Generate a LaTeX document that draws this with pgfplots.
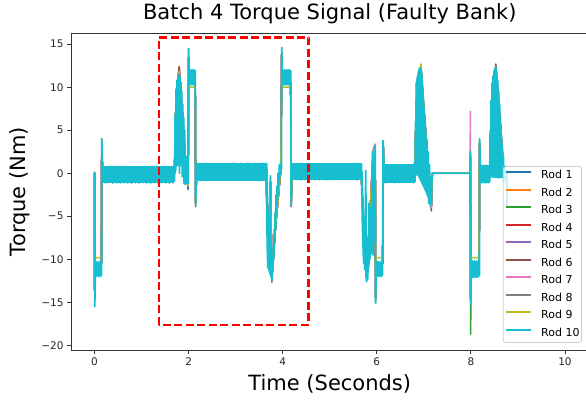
\documentclass[border=0pt]{standalone}
\usepackage{fontspec}
\setmainfont{DejaVu Sans}
\usepackage{pgfplots}
\usepackage{pgfplotstable}
\pgfplotsset{compat=1.18}
\definecolor{c1}{HTML}{1F77B4}
\definecolor{c2}{HTML}{FF7F0E}
\definecolor{c3}{HTML}{2CA02C}
\definecolor{c4}{HTML}{D62728}
\definecolor{c5}{HTML}{9467BD}
\definecolor{c6}{HTML}{8C564B}
\definecolor{c7}{HTML}{E377C2}
\definecolor{c8}{HTML}{7F7F7F}
\definecolor{c9}{HTML}{BCBD22}
\definecolor{c10}{HTML}{17BECF}

% Rods 1-9 (mostly hidden beneath Rod 10)
\pgfplotstableread{
x r1 r2 r3 r4 r5 r6 r7 r8 r9
0.000 0 0 0 0 0 0 0 0.2 0
0.005 -14 -14 -14 -14 -14 -14 -14 -14 -14
0.020 -10.5 -10.5 -10.5 -10.5 -10.5 -10.5 -10.5 -10.5 -9.8
0.145 -10.5 -10.5 -10.5 -10.5 -10.5 -10.5 -10.5 -10.5 -9.8
0.155 3.5 3.5 3.5 3.5 3.5 3.5 3.5 3.5 4.0
0.170 0 0 0 0 0 0 0 0 0
1.700 0 0 0 0 0 0 0 0 0
1.720 6 6 6 6 6 6 6 6 7
1.750 10 10 10 10 10 10 10 10 10
1.800 11.8 11.8 11.8 12.4 12.0 12.2 11.8 11.8 11.8
1.840 9 9 9 9 9 9 9 9 9
1.880 6 6 6 6 6 6 6 6 6
1.950 0 0 0 0 0 0 0 0 0
1.990 -1.9 -1.2 -1.2 -1.2 -1.2 -1.2 -1.2 -1.2 -1.5
2.000 13.5 13.5 13.5 13.5 13.5 13.5 13.5 13.5 13.5
2.010 10.5 10.5 10.5 10.5 10.5 10.5 10.5 10.5 10.0
2.140 10.5 10.5 10.5 10.5 10.5 10.5 10.5 10.5 10.0
2.150 -3.5 -3.5 -3.5 -3.5 -3.5 -3.9 -3.5 -3.5 -3.5
2.170 0 0 0 0 0 0 0 0 0
3.640 0 0 0 0 0 0 0 0 0
3.700 -7.5 -7.5 -7.5 -7.5 -7.5 -7.5 -7.5 -7.5 -8.0
3.740 -1.0 -1.0 -1.0 -1.0 -1.0 -1.0 -1.0 -1.0 -0.5
3.770 -12.0 -12.0 -12.0 -12.0 -12.0 -12.0 -12.0 -12.7 -12.0
3.850 -6 -6 -6 -6 -6 -6 -6 -6 -6
3.960 0.5 0.5 0.5 0.5 0.5 0.5 0.5 0.5 0.5
3.980 14 14 14 14 14 14 14 14 14
3.990 10.5 10.5 10.5 10.5 10.5 10.5 10.5 10.5 10.0
4.170 10.5 10.5 10.5 10.5 10.5 10.5 10.5 10.5 10.0
4.180 -3.5 -3.5 -3.5 -3.5 -3.5 -3.9 -3.5 -3.5 -3.5
4.200 0 0 0 0 0 0 0 0 0
5.670 0 0 0 0 0 0 0 0 0
5.750 -10.5 -10.5 -10.5 -10.5 -10.5 -10.5 -10.5 -10.5 -10.5
5.785 -12.2 -12.2 -12.2 -12.2 -12.2 -12.2 -12.2 -12.2 -12.2
5.920 2.0 2.0 2.0 2.0 2.0 2.0 2.8 2.0 2.0
5.965 2.8 2.8 2.8 2.8 2.8 2.8 3.4 2.8 2.8
5.975 -14.5 -14.5 -14.5 -14.5 -14.5 -14.5 -14.5 -14.5 -14.5
5.990 -10.5 -10.5 -10.5 -10.5 -10.5 -10.5 -10.5 -10.5 -9.8
6.125 -10.5 -10.5 -10.5 -10.5 -10.5 -10.5 -10.5 -10.5 -9.8
6.135 3.5 3.5 3.5 3.5 3.5 3.5 3.5 3.5 3.5
6.150 0 0 0 0 0 0 0 0 0
6.800 0 0 0 0 0 0 0 0 0
6.860 10.5 10.5 10.5 10.5 10.5 10.5 10.5 10.5 10.5
6.940 12.0 12.0 12.0 12.0 12.0 12.0 12.0 12.0 12.7
7.000 7.5 7.5 7.5 7.5 7.5 7.5 7.5 7.5 7.5
7.160 -3.8 -3.8 -3.8 -3.8 -3.8 -4.4 -4.0 -3.8 -3.8
7.180 0 0 0 0 0 0 0 0 0
7.980 0 0 0 0 0 0 0 0 0
7.990 2.0 2.0 2.0 2.0 2.0 2.0 7.2 2.0 2.0
7.995 -14.5 -14.5 -18.7 -14.5 -14.5 -14.5 -14.5 -14.5 -14.5
8.005 -10.5 -10.5 -10.5 -10.5 -10.5 -10.5 -10.5 -10.5 -9.8
8.175 -10.5 -10.5 -10.5 -10.5 -10.5 -10.5 -10.5 -10.5 -9.8
8.185 3.5 3.5 3.5 3.5 3.5 3.5 3.5 3.5 3.5
8.200 0 0 0 0 0 0 0 0 0
8.400 0 0 0 0 0 0 0 0 0
8.530 12.0 12.0 12.0 12.5 12.0 12.7 12.0 12.0 12.0
8.620 6 6 6 6 6 6 6 6 6
8.700 0 0 0 0 0 0 0 0 0
8.760 0 0 0 0 0 0 0 0 0
8.765 -3.6 -3.6 -3.6 -3.6 -3.6 -3.6 -3.6 -3.6 -3.6
}\rodsA

% Rod 10 (drawn on top)
\pgfplotstableread{
x y
0.000 0.1
0.005 -15.5
0.020 -10.3
0.032 -12.0
0.044 -10.3
0.056 -11.9
0.068 -10.4
0.080 -12.0
0.092 -10.3
0.104 -11.9
0.116 -10.3
0.128 -12.0
0.140 -10.4
0.150 -11.8
0.155 4.0
0.170 -1.0
0.190 0.78
0.23 -1.12
0.27 0.76
0.31 -1.10
0.35 0.80
0.39 -1.14
0.43 0.77
0.47 -1.11
0.51 0.79
0.55 -1.13
0.59 0.76
0.63 -1.10
0.67 0.80
0.71 -1.12
0.75 0.78
0.79 -1.14
0.83 0.76
0.87 -1.11
0.91 0.79
0.95 -1.13
0.99 0.77
1.03 -1.10
1.07 0.80
1.11 -1.12
1.15 0.76
1.19 -1.14
1.23 0.78
1.27 -1.11
1.31 0.79
1.35 -1.13
1.39 0.77
1.43 -1.10
1.47 0.80
1.51 -1.12
1.55 0.76
1.59 -1.14
1.63 0.78
1.67 -1.12
1.690 0.78
1.700 -0.9
1.715 7.0
1.725 0.3
1.735 9.8
1.745 4.0
1.755 10.8
1.765 6.5
1.775 11.2
1.785 9.0
1.795 11.5
1.805 0.0
1.815 11.2
1.825 6.0
1.835 10.6
1.845 3.0
1.855 9.5
1.865 -0.4
1.875 8.0
1.885 1.0
1.895 6.5
1.905 -1.2
1.915 5.0
1.930 -1.3
1.945 2.0
1.960 -1.2
1.975 0.5
1.990 -1.2
2.000 14.5
2.010 10.3
2.022 12.0
2.034 10.3
2.046 12.0
2.058 10.3
2.070 12.0
2.082 10.3
2.094 12.0
2.106 10.3
2.118 12.0
2.130 10.3
2.142 11.9
2.150 -3.7
2.165 1.15
2.18 -0.80
2.22 1.14
2.26 -0.78
2.30 1.16
2.34 -0.82
2.38 1.13
2.42 -0.79
2.46 1.15
2.50 -0.81
2.54 1.14
2.58 -0.78
2.62 1.16
2.66 -0.80
2.70 1.13
2.74 -0.82
2.78 1.15
2.82 -0.79
2.86 1.14
2.90 -0.81
2.94 1.16
2.98 -0.80
3.02 1.13
3.06 -0.78
3.10 1.15
3.14 -0.82
3.18 1.14
3.22 -0.79
3.26 1.16
3.30 -0.81
3.34 1.13
3.38 -0.80
3.42 1.15
3.46 -0.78
3.50 1.14
3.54 -0.82
3.58 1.16
3.62 -0.80
3.645 1.15
3.655 -2.0
3.665 -6.0
3.675 -9.0
3.685 -11.0
3.692 -5.0
3.700 -10.5
3.710 -7.5
3.720 -11.2
3.730 -9.0
3.740 -0.3
3.750 -10.0
3.760 -11.8
3.770 -12.4
3.780 -10.5
3.790 -11.5
3.800 -8.5
3.810 -10.0
3.820 -6.5
3.830 -8.0
3.840 -4.5
3.850 -6.5
3.860 -2.5
3.870 -4.5
3.880 -1.5
3.890 -3.0
3.900 0.0
3.915 -1.5
3.930 1.0
3.945 -0.5
3.960 1.2
3.972 0.5
3.980 14.6
3.990 10.3
4.002 12.0
4.014 10.3
4.026 12.0
4.038 10.3
4.050 12.0
4.062 10.3
4.074 12.0
4.086 10.3
4.098 12.0
4.110 10.3
4.122 12.0
4.134 10.3
4.146 12.0
4.158 10.3
4.170 11.9
4.180 -3.8
4.195 1.12
4.22 -0.75
4.26 1.11
4.30 -0.73
4.34 1.13
4.38 -0.77
4.42 1.10
4.46 -0.74
4.50 1.12
4.54 -0.76
4.58 1.11
4.62 -0.73
4.66 1.13
4.70 -0.75
4.74 1.10
4.78 -0.77
4.82 1.12
4.86 -0.74
4.90 1.11
4.94 -0.76
4.98 1.13
5.02 -0.75
5.06 1.10
5.10 -0.73
5.14 1.12
5.18 -0.77
5.22 1.11
5.26 -0.74
5.30 1.13
5.34 -0.76
5.38 1.10
5.42 -0.75
5.46 1.12
5.50 -0.73
5.54 1.11
5.58 -0.77
5.62 1.13
5.66 -0.75
5.675 1.10
5.685 -3.0
5.695 -6.0
5.705 -8.0
5.715 -9.5
5.725 -10.5
5.735 -8.0
5.745 -11.2
5.755 -9.0
5.765 0.3
5.775 -11.5
5.785 -12.6
5.795 -10.0
5.805 -12.3
5.815 -8.0
5.825 -11.0
5.835 -3.5
5.845 -10.0
5.855 -6.0
5.865 -9.0
5.875 -4.0
5.885 -7.0
5.900 -1.0
5.910 2.5
5.920 -9.5
5.930 2.0
5.940 -8.0
5.955 -0.5
5.965 3.2
5.975 -15.1
5.990 -10.3
6.002 -12.0
6.014 -10.3
6.026 -11.9
6.038 -10.3
6.050 -12.0
6.062 -10.4
6.074 -11.9
6.086 -10.3
6.098 -12.0
6.110 -10.3
6.122 -11.8
6.135 3.8
6.150 0.9
6.165 -1.1
6.180 1.0
6.22 -1.08
6.26 0.98
6.30 -1.06
6.34 1.00
6.38 -1.10
6.42 0.97
6.46 -1.07
6.50 0.99
6.54 -1.09
6.58 0.98
6.62 -1.06
6.66 1.00
6.70 -1.08
6.74 0.97
6.78 -1.10
6.800 1.0
6.810 -1.0
6.825 6.0
6.835 1.0
6.845 10.5
6.855 -0.2
6.865 11.2
6.875 5.0
6.885 11.8
6.895 8.0
6.905 12.2
6.915 2.7
6.925 12.0
6.935 3.0
6.945 11.5
6.955 6.0
6.965 10.5
6.975 0.5
6.985 9.0
6.995 2.0
7.005 7.5
7.015 -0.5
7.030 6.0
7.045 -1.5
7.060 4.0
7.075 -2.5
7.090 2.5
7.105 -3.5
7.120 1.0
7.135 -3.8
7.150 -0.5
7.160 -3.5
7.170 -1.0
7.180 0.0
7.980 0.0
7.990 2.5
7.995 -15.2
8.005 -10.2
8.017 -12.1
8.029 -10.2
8.041 -12.1
8.053 -10.3
8.065 -12.0
8.077 -10.2
8.089 -12.1
8.101 -10.3
8.113 -12.0
8.125 -10.2
8.137 -12.1
8.149 -10.3
8.161 -12.0
8.173 -10.2
8.180 -11.9
8.185 4.0
8.200 0.9
8.215 -1.1
8.230 0.9
8.250 -1.1
8.270 0.9
8.290 -1.1
8.310 0.9
8.330 -1.1
8.350 0.9
8.370 -1.1
8.390 0.9
8.400 -1.0
8.410 5.0
8.420 -0.5
8.430 8.5
8.440 1.0
8.450 10.5
8.460 4.0
8.470 11.3
8.480 7.0
8.490 11.8
8.500 9.0
8.510 12.2
8.520 6.0
8.530 12.4
8.540 8.0
8.550 11.8
8.560 4.0
8.570 10.8
8.580 7.0
8.590 9.5
8.600 2.0
8.610 8.0
8.620 4.0
8.630 6.5
8.640 0.0
8.650 4.5
8.660 1.0
8.670 3.0
8.680 -0.5
8.690 2.0
8.700 -1.0
8.720 0.8
8.740 -0.5
8.760 0.3
8.765 -3.9
}\rodten

\begin{document}
\begin{tikzpicture}
\begin{axis}[
  scale only axis, width=517.5pt, height=317pt,
  xmin=-0.5, xmax=10.5, ymin=-20.55, ymax=16.3,
  xtick={0,2,4,6,8,10}, xticklabels={0,2,4,6,8,10},
  ytick={-20,-15,-10,-5,0,5,10,15},
  yticklabels={−20,−15,−10,−5,0,5,10,15},
  axis line style={black!80, line width=0.9pt},
  tick style={black!80, line width=0.9pt},
  major tick length=4pt,
  tick align=outside,
  xtick pos=bottom, ytick pos=left,
  ticklabel style={font=\fontsize{10.5}{12}\selectfont, text=black!85},
  title={Batch 4 Torque Signal (Faulty Bank)},
  title style={font=\fontsize{21}{25}\selectfont, at={(axis description cs:0.5,1)}, anchor=base, yshift=7pt},
  xlabel={Time (Seconds)},
  xlabel style={font=\fontsize{21}{25}\selectfont, at={(axis description cs:0.5,0)}, anchor=base, yshift=-40pt},
  ylabel={Torque (Nm)},
  ylabel style={font=\fontsize{21}{25}\selectfont, at={(axis description cs:-0.087,0.5)}, anchor=base},
  every axis plot/.append style={line join=round},
  legend style={
    at={(axis description cs:0.9874,0.0221)}, anchor=south east,
    draw=black!20, line width=0.8pt, rounded corners=2.5pt,
    fill=white, fill opacity=0.8, text opacity=1, draw opacity=1,
    font=\fontsize{11}{13}\selectfont,
    inner xsep=2pt, inner ysep=4pt, row sep=7pt,
    nodes={inner sep=0pt, text height=8.2pt, text depth=2.3pt},
    /tikz/every odd column/.append style={column sep=9pt},
  },
  legend cell align=left,
  legend image code/.code={\draw[#1, line width=2pt, line cap=butt, sharp corners] (0pt,3.8pt) -- (25pt,3.8pt);},
  rodfill/.style={draw=none, fill=c10, forget plot},
]
\addplot[c1, line width=1.5pt] table[x=x, y=r1] {\rodsA};
\addplot[c2, line width=1.5pt] table[x=x, y=r2] {\rodsA};
\addplot[c3, line width=1.5pt] table[x=x, y=r3] {\rodsA};
\addplot[c4, line width=1.5pt] table[x=x, y=r4] {\rodsA};
\addplot[c5, line width=1.5pt] table[x=x, y=r5] {\rodsA};
\addplot[c6, line width=1.5pt] table[x=x, y=r6] {\rodsA};
\addplot[c7, line width=1.5pt] table[x=x, y=r7] {\rodsA};
\addplot[c8, line width=1.5pt] table[x=x, y=r8] {\rodsA};
\addplot[c9, line width=1.5pt] table[x=x, y=r9] {\rodsA};
% Rod 10: solid extent of its dense oscillation (bands, blocks, lobes)
\addplot[rodfill] coordinates {(0.010,-12.0) (0.150,-12.0) (0.150,-10.3) (0.010,-10.3)} --cycle;
\addplot[rodfill] coordinates {(0.185,-1.15) (1.690,-1.15) (1.690,0.80) (0.185,0.80)} --cycle;
\addplot[rodfill] coordinates {(2.005,10.3) (2.145,10.3) (2.145,12.0) (2.005,12.0)} --cycle;
\addplot[rodfill] coordinates {(2.170,-0.85) (3.640,-0.85) (3.640,1.18) (2.170,1.18)} --cycle;
\addplot[rodfill] coordinates {(3.985,10.3) (4.170,10.3) (4.170,12.0) (3.985,12.0)} --cycle;
\addplot[rodfill] coordinates {(4.200,-0.80) (5.670,-0.80) (5.670,1.15) (4.200,1.15)} --cycle;
\addplot[rodfill] coordinates {(5.985,-12.0) (6.125,-12.0) (6.125,-10.3) (5.985,-10.3)} --cycle;
\addplot[rodfill] coordinates {(6.180,-1.12) (6.800,-1.12) (6.800,1.02) (6.180,1.02)} --cycle;
\addplot[rodfill] coordinates {(8.000,-12.1) (8.180,-12.1) (8.180,-10.2) (8.000,-10.2)} --cycle;
\addplot[rodfill] coordinates {(8.200,-1.10) (8.390,-1.10) (8.390,0.92) (8.200,0.92)} --cycle;
\addplot[rodfill] coordinates {(1.715,0.8) (1.722,8.0) (1.740,10.3) (1.770,11.1) (1.800,11.3) (1.830,10.5) (1.855,8.5) (1.872,6.0) (1.880,0.8)} --cycle;
\addplot[rodfill] coordinates {(3.645,1.1) (3.655,-3) (3.670,-9) (3.690,-11.2) (3.720,-11.8) (3.765,-12.4) (3.780,-12.0) (3.820,-9) (3.870,-5) (3.920,-1) (3.965,1.2) (3.955,0.4) (3.910,-2.5) (3.860,-6) (3.810,-9.5) (3.775,-11) (3.740,-9) (3.710,-6) (3.690,-2) (3.680,1.1)} --cycle;
\addplot[rodfill] coordinates {(5.670,1.1) (5.685,-4) (5.700,-8) (5.730,-10.5) (5.770,-12) (5.785,-12.6) (5.810,-12) (5.850,-10.5) (5.880,-9.5) (5.910,-9) (5.930,-8.5) (5.935,-3) (5.900,-1.5) (5.870,-3.5) (5.840,-5.5) (5.800,-7.5) (5.760,-6.5) (5.720,-3) (5.700,0)} --cycle;
\addplot[rodfill] coordinates {(6.815,0) (6.822,10.4) (6.870,11.8) (6.940,12.4) (6.970,11.8) (7.000,9) (7.050,5) (7.100,1) (7.150,-2.8) (7.160,-3.8) (7.130,-3.6) (7.050,-2.4) (6.950,-1.2) (6.880,-0.4)} --cycle;
\addplot[rodfill] coordinates {(8.395,0.8) (8.420,7) (8.460,10.8) (8.500,12.0) (8.530,12.3) (8.560,11.4) (8.600,8.5) (8.650,4.5) (8.700,1.0) (8.700,-0.5) (8.600,-0.6) (8.450,-0.5)} --cycle;
\addplot[c10, line width=1.8pt] table[x=x, y=y] {\rodten};
\addplot[red, line width=2.5pt, dash pattern=on 8pt off 3.5pt, forget plot] coordinates {(1.371,15.76) (4.553,15.76) (4.553,-17.62) (1.371,-17.62) (1.371,15.76)};
\legend{Rod 1,Rod 2,Rod 3,Rod 4,Rod 5,Rod 6,Rod 7,Rod 8,Rod 9,Rod 10}
\end{axis}
\pgfresetboundingbox
\path[use as bounding box] ([xshift=-71pt,yshift=-49pt]current axis.south west) rectangle ([xshift=-2.5pt,yshift=33pt]current axis.north east);
\end{tikzpicture}
\end{document}
